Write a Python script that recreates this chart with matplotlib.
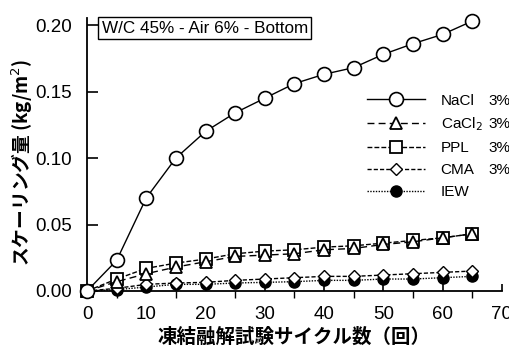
import matplotlib
matplotlib.use("Agg")
import matplotlib.pyplot as plt
from matplotlib.ticker import MultipleLocator

plt.rcParams['font.family'] = ['Liberation Sans', 'Noto Sans CJK JP', 'DejaVu Sans']

cycles = [0, 5, 10, 15, 20, 25, 30, 35, 40, 45, 50, 55, 60, 65]
nacl = [0, 0.023, 0.070, 0.100, 0.120, 0.134, 0.145, 0.156, 0.163, 0.168, 0.178, 0.186, 0.193, 0.203]
cacl2 = [0, 0.007, 0.013, 0.018, 0.022, 0.026, 0.027, 0.028, 0.031, 0.032, 0.035, 0.037, 0.040, 0.043]
ppl = [0, 0.009, 0.017, 0.021, 0.024, 0.028, 0.030, 0.031, 0.033, 0.034, 0.036, 0.038, 0.040, 0.043]
cma = [0, 0.002, 0.005, 0.006, 0.0065, 0.008, 0.009, 0.010, 0.011, 0.011, 0.012, 0.013, 0.014, 0.015]
iew = [0, 0.001, 0.003, 0.005, 0.005, 0.006, 0.0065, 0.007, 0.008, 0.008, 0.009, 0.009, 0.010, 0.011]

names = ['NaCl', 'CaCl$_2$', 'PPL', 'CMA', 'IEW']
conc = ['3%', '3%', '3%', '3%', '']

fig = plt.figure(figsize=(5.1, 3.47), dpi=100)
ax = fig.add_axes([0.1706, 0.1614, 0.8134, 0.7866])

ms = 9
ax.plot(cycles, iew, ls=(0, (1, 1)), color='k', lw=1, marker='o', ms=ms - 1,
        mfc='k', mec='k', clip_on=False, label=names[4], zorder=2)
ax.plot(cycles, cma, ls=(0, (3, 1.5)), color='k', lw=1, marker='D', ms=ms - 2.5,
        mfc='white', mec='k', clip_on=False, label=names[3], zorder=3)
ax.plot(cycles, ppl, ls=(0, (3.5, 1.5)), color='k', lw=1, marker='s', ms=ms,
        mfc='white', mec='k', mew=1.3, clip_on=False, label=names[2], zorder=4)
ax.plot(cycles, cacl2, ls=(0, (5, 3)), color='k', lw=1, marker='^', ms=ms - 1,
        mfc='white', mec='k', mew=1.3, clip_on=False, label=names[1], zorder=5)
ax.plot(cycles, nacl, ls='-', color='k', lw=1, marker='o', ms=ms + 1,
        mfc='white', mec='k', mew=1.2, clip_on=False, label=names[0], zorder=6)

ax.set_xlim(0, 70)
ax.set_ylim(0, 0.2053)
ax.xaxis.set_major_locator(MultipleLocator(10))
ax.xaxis.set_minor_locator(MultipleLocator(5))
ax.set_yticks([0, 0.05, 0.10, 0.15, 0.20])
ax.yaxis.set_major_formatter(matplotlib.ticker.FormatStrFormatter('%.2f'))
ax.tick_params(axis='both', direction='in', labelsize=13.5, width=1.2)
ax.tick_params(axis='y', length=8, pad=11)
ax.tick_params(axis='x', which='both', length=5, pad=11)
ax.tick_params(axis='x', which='minor', width=1)
for s in ['top', 'right']:
    ax.spines[s].set_visible(False)
for s in ['left', 'bottom']:
    ax.spines[s].set_linewidth(1.3)

ax.set_xlabel('凍結融解試験サイクル数（回）', fontsize=14, fontweight='bold',
              family=['Noto Sans CJK JP', 'DejaVu Sans'])
ax.xaxis.set_label_coords(0.5, -0.135)
ax.set_ylabel('スケーリング量 (kg/m$^2$)', fontsize=13.5, fontweight='bold',
              family=['Noto Sans CJK JP', 'DejaVu Sans'])
ax.yaxis.set_label_coords(-0.125, 0.47)

ax.text(0.035, 0.99, 'W/C 45% - Air 6% - Bottom', transform=ax.transAxes,
        fontsize=12.3, va='top', ha='left',
        bbox=dict(boxstyle='square,pad=0.2', fc='white', ec='k', lw=1))

h, l = ax.get_legend_handles_labels()
order = [4, 3, 2, 1, 0]
leg = ax.legend([h[i] for i in order], [l[i] for i in order], frameon=False,
                loc='upper left', bbox_to_anchor=(0.705, 0.752),
                bbox_transform=fig.transFigure, fontsize=11,
                handlelength=3.8, handletextpad=1.0, labelspacing=0.52,
                borderpad=0)

fig.canvas.draw()
inv = fig.transFigure.inverted()
for t, c in zip(leg.get_texts(), conc):
    if not c:
        continue
    bb = t.get_window_extent()
    ymid = inv.transform((0, (bb.y0 + bb.y1) / 2))[1]
    fig.text(0.958, ymid, c, fontsize=11, va='center', ha='left')

fig.savefig('out.png', dpi=100)
